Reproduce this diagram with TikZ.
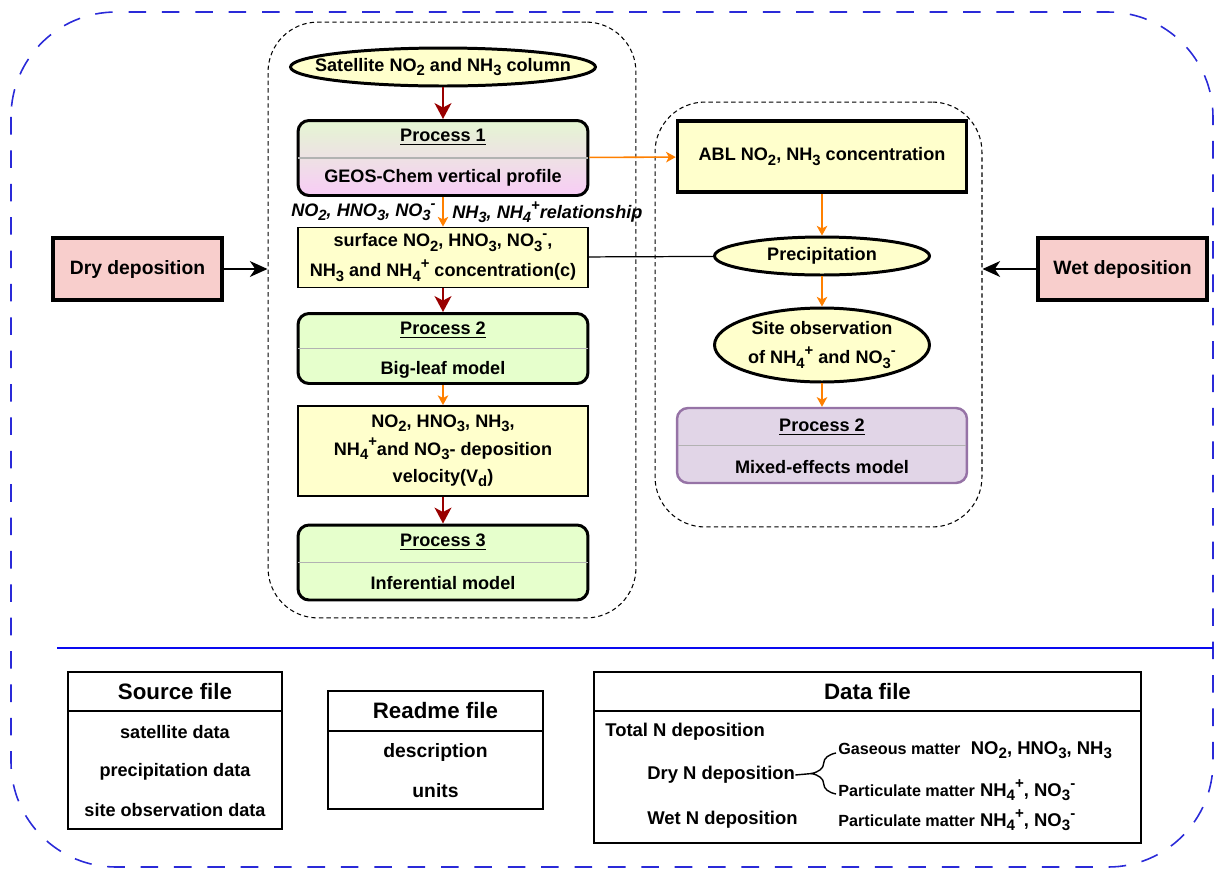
\documentclass[tikz,border=0pt]{standalone}
\usepackage{fontspec}
\setmainfont{Liberation Sans}
\usepackage{xcolor}
\usepackage{graphicx}
\usepackage{tikz}
\usetikzlibrary{arrows.meta,shapes.geometric,decorations.pathreplacing}

\definecolor{darkred}{HTML}{990000}
\definecolor{orng}{HTML}{FF8000}
\definecolor{paleyellow}{HTML}{FFFFCC}
\definecolor{palegreen}{HTML}{E6FFCC}
\definecolor{palepink}{HTML}{F8CECC}
\definecolor{palepurple}{HTML}{E1D5E7}
\definecolor{purpleline}{HTML}{9673A6}
\definecolor{topgreen}{HTML}{E4F6D2}
\definecolor{botpink}{HTML}{F8CCF6}
\definecolor{dashblue}{HTML}{2A2AD8}
\definecolor{lineblue}{HTML}{0A0AF0}

\newcommand{\chsub}[1]{\raisebox{-0.45ex}{\scalebox{0.82}{#1}}}
\newcommand{\chsup}[1]{\raisebox{0.85ex}{\scalebox{0.82}{#1}}}

\tikzset{
  procbox/.style={draw, line width=1.7pt, rounded corners=0.22cm, minimum width=5.8cm, minimum height=1.5cm, inner sep=0pt},
  flatbox/.style={draw, line width=1.1pt, fill=paleyellow, minimum width=5.8cm, inner sep=0pt},
  oval/.style={ellipse, draw, line width=1.7pt, fill=paleyellow, inner sep=0pt},
  depbox/.style={draw, line width=1.8pt, fill=palepink, minimum width=3.38cm, minimum height=1.24cm, font=\bfseries\fontsize{11}{13}\selectfont},
  dashframe/.style={draw, dash pattern=on 2.5pt off 1.8pt, line width=0.6pt, rounded corners=1cm, inner sep=0pt},
  divider/.style={gray!60, line width=0.8pt, shorten <=1pt, shorten >=1pt},
  redarrow/.style={-{Stealth[length=9pt,width=9.5pt,inset=2.5pt]}, line width=1.6pt, darkred},
  orangearrow/.style={-{Stealth[length=5.5pt,width=6pt,inset=1.5pt]}, line width=0.9pt, orng},
  blackarrow/.style={-{Stealth[length=10pt,width=9pt,inset=3pt]}, line width=1.2pt},
  italiclabel/.style={inner sep=0pt, font=\bfseries\itshape\fontsize{10.3}{12}\selectfont},
  tablebox/.style={draw, line width=1.1pt, inner sep=0pt},
  titletext/.style={font=\bfseries\fontsize{12.7}{15}\selectfont},
  rowtext/.style={inner sep=0pt, font=\bfseries\fontsize{10.5}{12.5}\selectfont},
}

\begin{document}
\begin{tikzpicture}[x=0.02cm, y=-0.02cm, font=\bfseries\fontsize{10.3}{12.4}\selectfont]
\useasboundingbox (0,0) rectangle (1215,873);
\draw[dashblue, line width=0.9pt, dash pattern=on 10pt off 9pt, rounded corners=2.1cm] (11,12) rectangle (1213,867);
\draw[lineblue, line width=1.3pt] (57,648) -- (1213,648);

\node[dashframe, minimum width=7.36cm, minimum height=11.92cm] (leftframe) at (452,320) {};
\node[dashframe, minimum width=6.54cm, minimum height=8.5cm] (rightframe) at (818.5,314.5) {};

\node[oval, minimum width=6.1cm, minimum height=0.76cm] (sat) at (443,67) {};
\node (sattext) at (sat) {Satellite NO\chsub{2} and NH\chsub{3} column};

\node[procbox, top color=topgreen, bottom color=botpink] (proc1) at (443,158) {};
\draw[divider] (proc1.west) -- (proc1.east);
\node (proc1head) at ([yshift=0.41cm]proc1.center) {\underline{Process 1}};
\node (proc1body) at ([yshift=-0.4cm]proc1.center) {GEOS-Chem vertical profile};

\node[italiclabel, anchor=east] (nitrogenox) at (436,212) {NO\chsub{2}, HNO\chsub{3}, NO\chsub{3}\chsup{-}};
\node[italiclabel, anchor=west] (ammonia) at (452,212) {NH\chsub{3}, NH\chsub{4}\chsup{+}relationship};

\node[flatbox, minimum height=1.2cm, align=center, font=\bfseries\fontsize{10.3}{17}\selectfont] (surf) at (443,257.5)
  {surface NO\chsub{2}, HNO\chsub{3}, NO\chsub{3}\chsup{-},\\NH\chsub{3} and NH\chsub{4}\chsup{+} concentration(c)};

\node[procbox, fill=palegreen, minimum height=1.4cm] (proc2) at (443,348.5) {};
\draw[divider] (proc2.west) -- (proc2.east);
\node (proc2head) at ([yshift=0.37cm]proc2.center) {\underline{Process 2}};
\node (proc2body) at ([yshift=-0.43cm]proc2.center) {Big-leaf model};

\node[flatbox, minimum height=1.8cm, align=center, font=\bfseries\fontsize{10.3}{15.6}\selectfont] (veloc) at (443,451)
  {NO\chsub{2}, HNO\chsub{3}, NH\chsub{3},\\NH\chsub{4}\chsup{+}and NO\chsub{3}- deposition\\velocity(V\chsub{d})};

\node[procbox, fill=palegreen] (proc3) at (443,562.5) {};
\draw[divider] (proc3.west) -- (proc3.east);
\node (proc3head) at ([yshift=0.41cm]proc3.center) {\underline{Process 3}};
\node (proc3body) at ([yshift=-0.41cm]proc3.center) {Inferential model};

\node[draw, line width=2pt, fill=paleyellow, minimum width=5.78cm, minimum height=1.42cm] (abl) at (822,156.5) {ABL NO\chsub{2}, NH\chsub{3} concentration};
\node[oval, minimum width=4.3cm, minimum height=0.76cm] (precip) at (822,256) {};
\node (preciptext) at (precip) {Precipitation};
\node[oval, minimum width=4.3cm, minimum height=1.48cm] (siteobs) at (822,345) {};
\node[align=center, font=\bfseries\fontsize{10.3}{16.4}\selectfont] (siteobstext) at (siteobs) {Site observation\\of NH\chsub{4}\chsup{+} and NO\chsub{3}\chsup{-}};
\node[procbox, fill=palepurple, draw=purpleline, line width=1.4pt] (mixed) at (822,445.5) {};
\draw[divider] (mixed.west) -- (mixed.east);
\node (mixedhead) at ([yshift=0.37cm]mixed.center) {\underline{Process 2}};
\node (mixedbody) at ([yshift=-0.43cm]mixed.center) {Mixed-effects model};

\node[depbox] (dry) at (137.5,269) {Dry deposition};
\node[depbox] (wet) at (1122.5,269) {Wet deposition};

\draw[redarrow] (sat) -- (proc1);
\draw[orangearrow] (proc1) -- (surf);
\draw[redarrow] (surf) -- (proc2);
\draw[orangearrow] (proc2) -- (veloc);
\draw[redarrow] (veloc) -- (proc3);
\draw[orangearrow] (proc1) -- (abl);
\draw[orangearrow] (abl) -- (precip);
\draw[orangearrow] (precip) -- (siteobs);
\draw[orangearrow] (siteobs) -- (mixed);
\draw[line width=0.7pt] (surf) -- (precip);
\draw[blackarrow] (dry) -- (leftframe.west |- dry);
\draw[blackarrow] (wet) -- (rightframe.east |- wet);

\node[tablebox, minimum width=4.28cm, minimum height=3.14cm] (source) at (175,750.5) {};
\draw[line width=1.1pt] (source.west |- 0,711) -- (source.east |- 0,711);
\node[titletext] (sourcetitle) at (175,691.5) {Source file};
\node (satdata) at (175,732) {satellite data};
\node (precipdata) at (175,772) {precipitation data};
\node (sitedata) at (175,810) {site observation data};

\node[tablebox, minimum width=4.3cm, minimum height=2.36cm] (readme) at (435.5,750) {};
\draw[line width=1.1pt] (readme.west |- 0,731) -- (readme.east |- 0,731);
\node[titletext] (readmetitle) at (435.5,711) {Readme file};
\node[font=\bfseries\fontsize{11}{13}\selectfont] (descr) at (435.5,752) {description};
\node[font=\bfseries\fontsize{11}{13}\selectfont] (units) at (435.5,791) {units};

\node[tablebox, minimum width=10.94cm, minimum height=3.42cm] (datafile) at (867.5,757.5) {};
\draw[line width=1.1pt] (datafile.west |- 0,711) -- (datafile.east |- 0,711);
\node[titletext] (datatitle) at (867.5,692) {Data file};
\node[rowtext, anchor=west] (totaln) at (605,732) {Total N deposition};
\node[rowtext, anchor=west] (dryn) at (647,775) {Dry N deposition};
\node[rowtext, anchor=west] (wetn) at (647,820) {Wet N deposition};
\node[rowtext, anchor=west] (gas) at (838,750) {{\fontsize{9.2}{11}\selectfont Gaseous matter}\hspace{3pt} NO\chsub{2}, HNO\chsub{3}, NH\chsub{3}};
\node[rowtext, anchor=west] (dryparticle) at (838,790) {{\fontsize{9.2}{11}\selectfont Particulate matter} NH\chsub{4}\chsup{+}, NO\chsub{3}\chsup{-}};
\node[rowtext, anchor=west] (wetparticle) at (838,820) {{\fontsize{9.2}{11}\selectfont Particulate matter} NH\chsub{4}\chsup{+}, NO\chsub{3}\chsup{-}};
\draw[decorate, decoration={brace, amplitude=14pt}, line width=0.8pt] (836,794) -- (836,753);
\coordinate (bracetip) at (812,773.5);
\draw[line width=0.8pt] (dryn.east) -- (bracetip);
\end{tikzpicture}
\end{document}
